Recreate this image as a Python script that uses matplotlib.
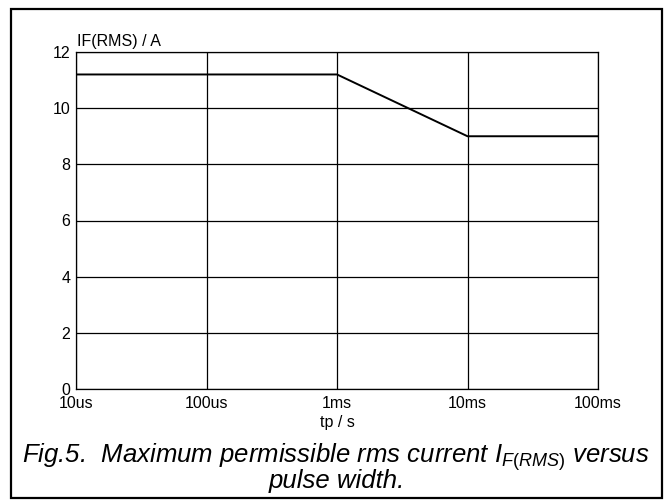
import matplotlib
matplotlib.use('Agg')
import matplotlib.pyplot as plt
from matplotlib.patches import Rectangle

plt.rcParams['font.family'] = ['Liberation Sans', 'DejaVu Sans']
plt.rcParams['mathtext.fontset'] = 'custom'
plt.rcParams['mathtext.rm'] = 'Liberation Sans'
plt.rcParams['mathtext.it'] = 'Liberation Sans:italic'

# data
tp = [1e-5, 1e-3, 1e-2, 1e-1]
i_rms = [11.2, 11.2, 9.0, 9.0]
x_ticks = [1e-5, 1e-4, 1e-3, 1e-2, 1e-1]
x_labels = ['10us', '100us', '1ms', '10ms', '100ms']
y_ticks = [0, 2, 4, 6, 8, 10, 12]

W, H = 669, 503
fig = plt.figure(figsize=(W / 100, H / 100), dpi=100)

# outer frame
fig.patches.append(Rectangle((11 / W, 5 / H), 651 / W, 489 / H,
                             transform=fig.transFigure, fill=False,
                             edgecolor='black', linewidth=1.6))

ax = fig.add_axes([76 / W, 114 / H, 522 / W, 337 / H])
ax.plot(tp, i_rms, color='black', linewidth=1.4)
ax.set_xscale('log')
ax.set_xlim(1e-5, 1e-1)
ax.set_ylim(0, 12)
ax.set_xticks(x_ticks)
ax.set_xticklabels(x_labels, fontsize=11.5)
ax.minorticks_off()
ax.set_yticks(y_ticks)
ax.set_yticklabels([str(v) for v in y_ticks], fontsize=11.5)
ax.tick_params(length=0)
ax.tick_params(axis='x', pad=5)
ax.tick_params(axis='y', pad=4)
ax.grid(True, color='black', linewidth=0.9)
for s in ax.spines.values():
    s.set_linewidth(0.9)
ax.set_xlabel('tp / s', fontsize=11.5, labelpad=3)
ax.text(0.002, 1.008, 'IF(RMS) / A', transform=ax.transAxes,
        fontsize=11.5, ha='left', va='bottom')

fig.text(336 / W, (H - 463) / H,
         r'Fig.5.  Maximum permissible rms current $I_{\mathit{F(RMS)}}$ versus',
         fontsize=18.5, style='italic', ha='center', va='baseline')
fig.text(337 / W, (H - 488) / H, 'pulse width.', fontsize=18.5,
         style='italic', ha='center', va='baseline')

fig.savefig('out.png', dpi=100)
